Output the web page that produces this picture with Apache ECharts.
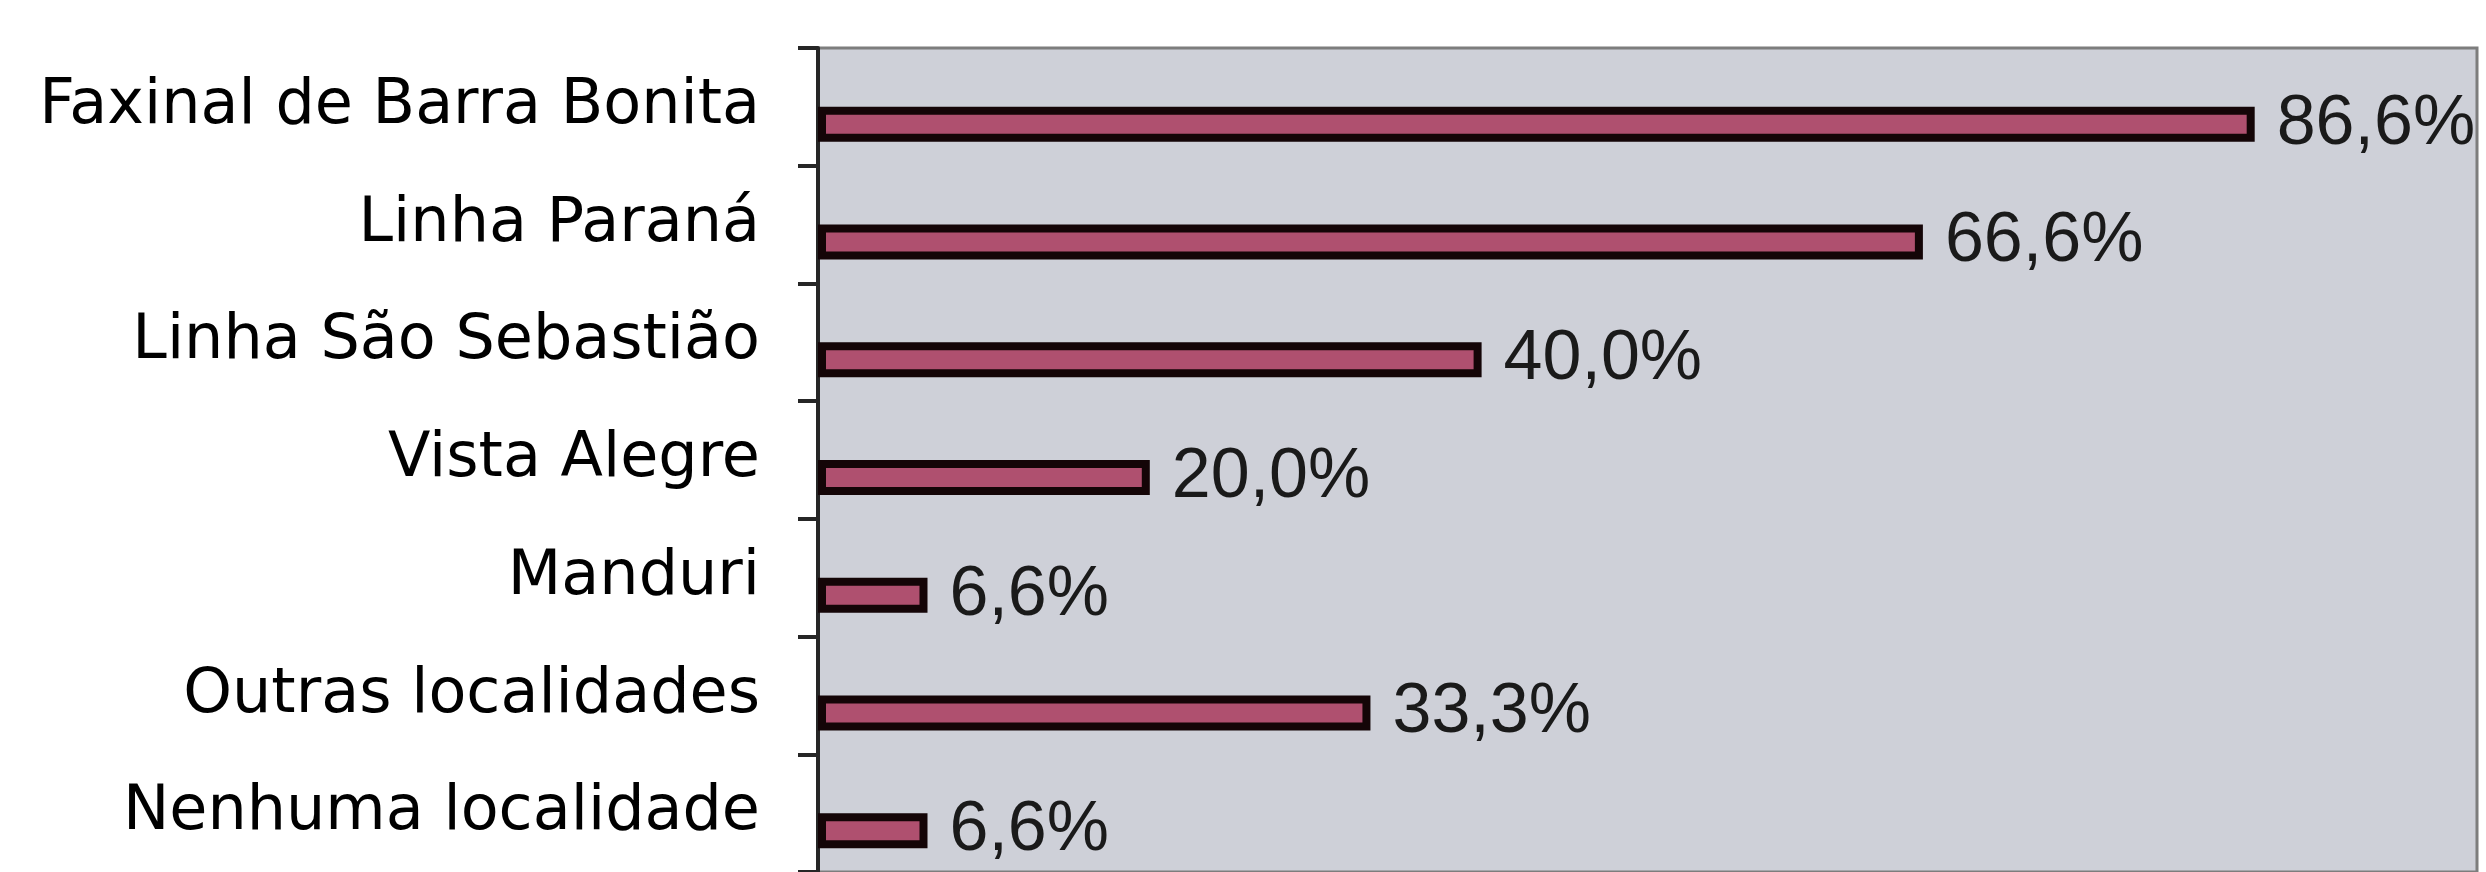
<!DOCTYPE html>
<html>
<head>
<meta charset="utf-8">
<script src="https://cdn.jsdelivr.net/npm/echarts@6/dist/echarts.min.js"></script>
<style>
html,body{margin:0;padding:0;background:#ffffff;}
#chart{width:2486px;height:872px;}
</style>
</head>
<body>
<div id="chart"></div>
<script>
var categories = ['Faxinal de Barra Bonita', 'Linha Paraná', 'Linha São Sebastião', 'Vista Alegre', 'Manduri', 'Outras localidades', 'Nenhuma localidade'];
var values = [86.6, 66.6, 40.0, 20.0, 6.6, 33.3, 6.6];
var spacer = [null, null, null, null, null, null, null];

var chart = echarts.init(document.getElementById('chart'));
chart.setOption({
  backgroundColor: '#ffffff',
  animation: false,
  grid: {
    left: 818, right: 9, top: 48, height: 847,
    show: true, backgroundColor: '#CED0D8', borderColor: '#7d7d7d', borderWidth: 3
  },
  xAxis: {
    type: 'value', min: 0, max: 100,
    axisLine: {show: false}, axisTick: {show: false}, axisLabel: {show: false}, splitLine: {show: false}
  },
  yAxis: {
    type: 'category', data: categories, inverse: true,
    axisLine: {show: true, lineStyle: {color: '#262626', width: 4}},
    axisTick: {show: true, length: 20, lineStyle: {color: '#262626', width: 4}},
    axisLabel: {margin: 58, fontFamily: 'DejaVu Sans', fontSize: 62, color: '#000000'}
  },
  series: [
    {type: 'bar', data: spacer, barWidth: 35, silent: true},
    {
      type: 'bar', data: values, barWidth: 35, barGap: '0%',
      itemStyle: {color: '#AF506F', borderColor: '#140507', borderWidth: 8},
      label: {
        show: true, position: 'right', distance: 22,
        fontFamily: 'Liberation Sans', fontSize: 70, color: '#1a1a1a',
        formatter: function (p) { return p.value.toFixed(1).replace('.', ',') + '%'; }
      }
    }
  ]
});
</script>
</body>
</html>
